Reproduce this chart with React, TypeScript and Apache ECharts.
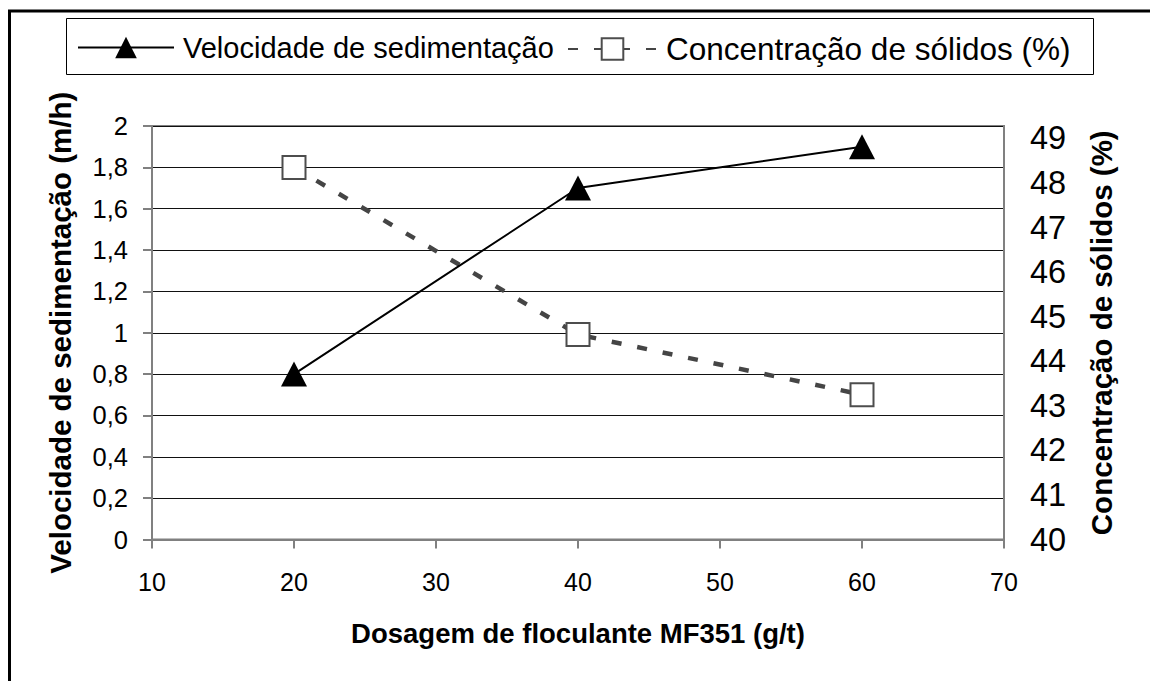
import React, { useEffect, useRef } from "react";
import * as echarts from "echarts";

const dosagem = [20, 40, 60];
const velocidade = [0.8, 1.7, 1.9];
const concentracao = [48.35, 44.6, 43.25];

const seriesNames = ["Velocidade de sedimentação", "Concentração de sólidos (%)"];
const xTitle = "Dosagem de floculante MF351 (g/t)";
const yLeftTitle = "Velocidade de sedimentação (m/h)";
const yRightTitle = "Concentração de sólidos (%)";

const FONT = "Liberation Sans";

export default function App() {
  const ref = useRef<HTMLDivElement>(null);
  useEffect(() => {
    if (!ref.current) return;
    const chart = echarts.init(ref.current, undefined, { renderer: "svg" });
    const velData = dosagem.map((x, i) => [x, velocidade[i]]);
    const conData = dosagem.map((x, i) => [x, concentracao[i]]);
    chart.setOption({
      animation: false,
      backgroundColor: "#ffffff",
      textStyle: { fontFamily: FONT, color: "#000" },
      grid: {
        left: 152,
        right: 146,
        top: 126,
        bottom: 141.5,
        show: true,
        borderColor: "#808080",
        borderWidth: 2,
        backgroundColor: "transparent",
      },
      legend: [
        {
          left: 77,
          top: 33,
          padding: 0,
          itemWidth: 96,
          itemHeight: 27,
          data: [seriesNames[0]],
          textStyle: { fontFamily: FONT, fontSize: 29, color: "#000", padding: [0, 0, 0, 4] },
        },
        {
          left: 567,
          top: 33,
          padding: 0,
          itemWidth: 89,
          itemHeight: 27,
          data: [seriesNames[1]],
          textStyle: { fontFamily: FONT, fontSize: 31.5, color: "#000", padding: [0, 0, 0, 4] },
        },
      ],
      graphic: [
        {
          type: "rect",
          shape: { x: 9.5, y: 11, width: 1300, height: 1000 },
          style: { fill: "none", stroke: "#000", lineWidth: 3 },
          silent: true,
          z: 100,
        },
        {
          type: "rect",
          shape: { x: 66.5, y: 18.5, width: 1027, height: 56 },
          style: { fill: "none", stroke: "#000", lineWidth: 1 },
          silent: true,
        },
      ],
      xAxis: {
        type: "value",
        min: 10,
        max: 70,
        interval: 10,
        name: xTitle,
        nameLocation: "middle",
        nameGap: 80,
        nameTextStyle: { fontFamily: FONT, fontSize: 27.5, fontWeight: "bold", color: "#000" },
        axisLine: { show: true, lineStyle: { color: "#808080", width: 2 } },
        axisTick: { show: true, length: 9, lineStyle: { color: "#808080", width: 2 } },
        axisLabel: { fontFamily: FONT, fontSize: 25, color: "#000", margin: 30 },
        splitLine: { show: false },
      },
      yAxis: [
        {
          type: "value",
          min: 0,
          max: 2,
          interval: 0.2,
          name: yLeftTitle,
          nameLocation: "middle",
          nameRotate: 90,
          nameGap: 77,
          nameTextStyle: { fontFamily: FONT, fontSize: 29.5, fontWeight: "bold", color: "#000" },
          axisLine: { show: true, lineStyle: { color: "#808080", width: 2 } },
          axisTick: { show: true, length: 9, lineStyle: { color: "#808080", width: 2 } },
          axisLabel: {
            fontFamily: FONT,
            fontSize: 25.5,
            color: "#000",
            margin: 24,
            formatter: (v: number) => String(Math.round(v * 10) / 10).replace(".", ","),
          },
          splitLine: { show: true, lineStyle: { color: "#111", width: 1 } },
        },
        {
          type: "value",
          min: 40,
          max: 49.28,
          interval: 1,
          position: "right",
          name: yRightTitle,
          nameLocation: "middle",
          nameRotate: 90,
          nameGap: 82,
          nameTextStyle: { fontFamily: FONT, fontSize: 29.5, fontWeight: "bold", color: "#000" },
          axisLine: { show: true, lineStyle: { color: "#808080", width: 2 } },
          axisTick: { show: false },
          axisLabel: {
            fontFamily: FONT,
            fontSize: 32.5,
            color: "#000",
            margin: 26,
            showMaxLabel: false,
          },
          splitLine: { show: false },
        },
      ],
      series: [
        {
          name: seriesNames[0],
          type: "line",
          yAxisIndex: 0,
          data: velData,
          symbol: "triangle",
          symbolSize: [26, 25],
          itemStyle: { color: "#000", borderColor: "#000", borderWidth: 0 },
          lineStyle: { color: "#000", width: 2, type: "solid" },
          z: 4,
        },
        {
          name: seriesNames[1],
          type: "line",
          yAxisIndex: 1,
          data: conData,
          symbol: "rect",
          symbolSize: 23,
          itemStyle: { color: "#ffffff", borderColor: "#4d4d4d", borderWidth: 2 },
          lineStyle: { color: "#454545", width: 4.5, type: [10, 16] },
          z: 3,
        },
      ],
    });
    return () => chart.dispose();
  }, []);
  return (
    <div
      ref={ref}
      style={{ position: "fixed", left: 0, top: 0, width: 1150, height: 681, background: "#fff" }}
    />
  );
}
